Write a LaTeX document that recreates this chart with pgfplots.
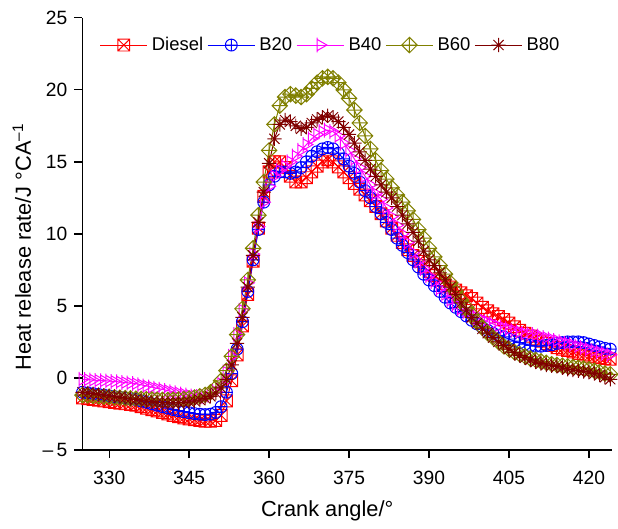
\documentclass[border=0pt]{standalone}
\usepackage{fontspec}
\setmainfont{Liberation Sans}
\usepackage{pgfplots}
\usepackage{pgfplotstable}
\pgfplotsset{compat=1.18}

\definecolor{cDiesel}{RGB}{255,0,0}
\definecolor{cBtwenty}{RGB}{0,0,255}
\definecolor{cBforty}{RGB}{255,0,255}
\definecolor{cBsixty}{RGB}{128,128,0}
\definecolor{cBeighty}{RGB}{128,0,0}

% hollow marks in the style of the original plot
\pgfdeclareplotmark{sqx}{%
  \pgfpathrectangle{\pgfqpoint{-\pgfplotmarksize}{-\pgfplotmarksize}}{\pgfqpoint{2\pgfplotmarksize}{2\pgfplotmarksize}}%
  \pgfpathmoveto{\pgfqpoint{-\pgfplotmarksize}{-\pgfplotmarksize}}%
  \pgfpathlineto{\pgfqpoint{\pgfplotmarksize}{\pgfplotmarksize}}%
  \pgfpathmoveto{\pgfqpoint{-\pgfplotmarksize}{\pgfplotmarksize}}%
  \pgfpathlineto{\pgfqpoint{\pgfplotmarksize}{-\pgfplotmarksize}}%
  \pgfusepathqstroke}
\pgfdeclareplotmark{dplus}{%
  \pgfpathmoveto{\pgfqpoint{0pt}{1.3\pgfplotmarksize}}%
  \pgfpathlineto{\pgfqpoint{1.3\pgfplotmarksize}{0pt}}%
  \pgfpathlineto{\pgfqpoint{0pt}{-1.3\pgfplotmarksize}}%
  \pgfpathlineto{\pgfqpoint{-1.3\pgfplotmarksize}{0pt}}%
  \pgfpathclose
  \pgfpathmoveto{\pgfqpoint{0pt}{1.3\pgfplotmarksize}}%
  \pgfpathlineto{\pgfqpoint{0pt}{-1.3\pgfplotmarksize}}%
  \pgfpathmoveto{\pgfqpoint{-1.3\pgfplotmarksize}{0pt}}%
  \pgfpathlineto{\pgfqpoint{1.3\pgfplotmarksize}{0pt}}%
  \pgfusepathqstroke}
\pgfdeclareplotmark{tright}{%
  \pgfpathmoveto{\pgfqpoint{1.1\pgfplotmarksize}{0pt}}%
  \pgfpathlineto{\pgfqpoint{-0.55\pgfplotmarksize}{0.95\pgfplotmarksize}}%
  \pgfpathlineto{\pgfqpoint{-0.55\pgfplotmarksize}{-0.95\pgfplotmarksize}}%
  \pgfpathclose
  \pgfpathmoveto{\pgfqpoint{-0.55\pgfplotmarksize}{1.25\pgfplotmarksize}}%
  \pgfpathlineto{\pgfqpoint{-0.55\pgfplotmarksize}{-1.25\pgfplotmarksize}}%
  \pgfusepathqstroke}
\pgfdeclareplotmark{star8}{%
  \pgfpathmoveto{\pgfqpoint{0pt}{1.2\pgfplotmarksize}}%
  \pgfpathlineto{\pgfqpoint{0pt}{-1.2\pgfplotmarksize}}%
  \pgfpathmoveto{\pgfqpoint{-1.2\pgfplotmarksize}{0pt}}%
  \pgfpathlineto{\pgfqpoint{1.2\pgfplotmarksize}{0pt}}%
  \pgfpathmoveto{\pgfqpoint{-0.85\pgfplotmarksize}{-0.85\pgfplotmarksize}}%
  \pgfpathlineto{\pgfqpoint{0.85\pgfplotmarksize}{0.85\pgfplotmarksize}}%
  \pgfpathmoveto{\pgfqpoint{-0.85\pgfplotmarksize}{0.85\pgfplotmarksize}}%
  \pgfpathlineto{\pgfqpoint{0.85\pgfplotmarksize}{-0.85\pgfplotmarksize}}%
  \pgfusepathqstroke}

% heat release rate (J/degCA)
\pgfplotstableread{
x    d      b20    b40    b60    b80
325 -1.40 -1.00 -0.10 -1.20 -1.00
326 -1.45 -1.05 -0.12 -1.22 -1.05
327 -1.50 -1.10 -0.15 -1.25 -1.10
328 -1.55 -1.15 -0.18 -1.28 -1.15
329 -1.60 -1.20 -0.20 -1.30 -1.20
330 -1.65 -1.25 -0.22 -1.32 -1.25
331 -1.70 -1.30 -0.25 -1.35 -1.30
332 -1.75 -1.35 -0.28 -1.37 -1.35
333 -1.80 -1.40 -0.32 -1.40 -1.40
334 -1.85 -1.45 -0.36 -1.42 -1.45
335 -1.90 -1.50 -0.40 -1.44 -1.50
336 -2.00 -1.60 -0.48 -1.46 -1.55
337 -2.10 -1.70 -0.56 -1.48 -1.60
338 -2.20 -1.80 -0.64 -1.50 -1.65
339 -2.30 -1.90 -0.72 -1.52 -1.70
340 -2.40 -2.00 -0.80 -1.53 -1.72
341 -2.50 -2.10 -0.88 -1.53 -1.73
342 -2.60 -2.20 -0.96 -1.52 -1.73
343 -2.70 -2.28 -1.04 -1.50 -1.72
344 -2.78 -2.35 -1.12 -1.46 -1.70
345 -2.85 -2.42 -1.20 -1.42 -1.66
346 -2.90 -2.48 -1.26 -1.36 -1.60
347 -2.95 -2.52 -1.30 -1.28 -1.52
348 -3.00 -2.55 -1.30 -1.18 -1.42
349 -3.00 -2.52 -1.20 -1.00 -1.28
350 -2.95 -2.40 -0.95 -0.70 -1.05
351 -2.60 -2.00 -0.40 -0.20 -0.70
352 -1.60 -1.00 0.40 0.50 -0.10
353 -0.20 0.30 1.50 1.50 0.90
354 1.60 2.00 3.00 3.00 2.40
355 3.60 3.90 4.70 4.80 4.20
356 5.80 6.00 6.60 6.80 6.30
357 8.10 8.20 8.60 9.00 8.50
358 10.40 10.30 10.50 11.30 10.80
359 12.60 12.20 12.20 13.60 12.90
360 14.30 13.40 13.30 15.80 14.90
361 15.00 14.00 14.00 17.60 16.60
362 15.00 14.30 14.40 18.90 17.60
363 14.60 14.30 14.70 19.50 17.90
364 14.00 14.20 15.00 19.70 17.80
365 13.60 14.30 15.40 19.60 17.50
366 13.60 14.60 15.80 19.50 17.30
367 13.90 15.00 16.20 19.70 17.40
368 14.30 15.40 16.60 20.10 17.70
369 14.70 15.70 16.90 20.50 17.95
370 15.00 15.90 17.10 20.80 18.10
371 15.15 16.00 17.20 20.90 18.20
372 15.00 15.90 17.10 20.80 18.10
373 14.65 15.60 16.80 20.50 17.80
374 14.30 15.20 16.30 20.00 17.40
375 13.90 14.70 15.80 19.40 16.90
376 13.50 14.20 15.20 18.60 16.30
377 13.10 13.60 14.60 17.70 15.70
378 12.70 13.00 14.00 16.80 15.10
379 12.30 12.50 13.40 15.90 14.50
380 11.90 11.90 12.80 15.10 14.00
381 11.40 11.40 12.40 14.40 13.40
382 10.90 10.80 11.80 13.80 12.90
383 10.40 10.30 11.20 13.20 12.50
384 9.90 9.70 10.60 12.70 11.90
385 9.40 9.20 10.00 12.20 11.30
386 8.90 8.70 9.40 11.60 10.70
387 8.50 8.20 8.70 11.00 10.10
388 8.10 7.70 8.10 10.30 9.50
389 7.70 7.20 7.60 9.70 8.80
390 7.40 6.80 7.10 9.00 8.20
391 7.10 6.40 6.70 8.40 7.80
392 6.80 6.00 6.20 7.80 7.30
393 6.55 5.60 5.80 7.20 6.80
394 6.30 5.20 5.40 6.60 6.30
395 6.10 4.90 5.10 6.00 5.80
396 5.90 4.60 4.80 5.40 5.20
397 5.70 4.30 4.60 4.90 4.70
398 5.50 4.00 4.40 4.40 4.20
399 5.20 3.75 4.20 3.90 3.80
400 4.90 3.50 4.05 3.50 3.40
401 4.65 3.30 3.90 3.10 3.10
402 4.45 3.10 3.75 2.80 2.80
403 4.25 2.95 3.60 2.50 2.50
404 4.05 2.85 3.50 2.20 2.25
405 3.80 2.70 3.40 2.00 2.00
406 3.55 2.55 3.30 1.80 1.75
407 3.30 2.45 3.20 1.65 1.55
408 3.10 2.35 3.10 1.50 1.40
409 2.90 2.25 3.05 1.35 1.25
410 2.70 2.20 3.00 1.25 1.10
411 2.55 2.20 2.90 1.15 1.00
412 2.40 2.25 2.80 1.05 0.90
413 2.25 2.30 2.70 0.95 0.85
414 2.10 2.40 2.60 0.90 0.80
415 2.00 2.45 2.50 0.85 0.70
416 1.90 2.50 2.40 0.80 0.60
417 1.80 2.50 2.30 0.75 0.55
418 1.70 2.50 2.20 0.70 0.50
419 1.60 2.45 2.10 0.65 0.45
420 1.50 2.35 2.00 0.60 0.40
421 1.45 2.25 1.90 0.50 0.30
422 1.40 2.15 1.80 0.40 0.20
423 1.35 2.05 1.70 0.30 0.05
424 1.30 2.00 1.60 0.25 -0.10
}\hrrdata

\begin{document}
\begin{tikzpicture}
\begin{axis}[
  width=267.5pt, height=218pt, scale only axis,
  xmin=324.95, xmax=424.4, ymin=-5, ymax=25,
  axis x line*=bottom, axis y line*=left,
  axis line style={line width=0.65pt},
  xtick={330,345,...,420}, ytick={-5,0,...,25},
  yticklabels={{–\,5},0,5,10,15,20,25},
  minor tick num=0,
  tick align=outside, major tick length=4pt,
  tick style={line width=0.65pt, black},
  /pgf/number format/assume math mode=true,
  /pgf/number format/1000 sep={},
  tick label style={font=\fontsize{9.7}{11}\selectfont},
  xticklabel style={yshift=-3pt},
  label style={font=\fontsize{11}{13}\selectfont},
  xlabel={Crank angle/°},
  ylabel={Heat release rate/J °CA\textsuperscript{–1}},
  xlabel style={at={(axis description cs:0.462,-0.142)}, anchor=center},
  ylabel style={at={(axis description cs:-0.114,0.47)}, anchor=center},
  every axis plot/.append style={line width=0.5pt, mark size=3pt,
    mark options={solid, line width=0.5pt}},
  legend columns=5,
  legend style={at={(0.032,0.966)}, anchor=north west, draw=none, fill=none,
    font=\fontsize{9.3}{11}\selectfont, inner sep=0pt,
    /tikz/every even column/.append style={column sep=0pt}},
  legend image code/.code={\draw[mark repeat=2,mark phase=2]
    plot coordinates {(0cm,0cm) (0.42cm,0cm) (0.84cm,0cm)};},
]
\addplot[cDiesel, mark=sqx] table[x=x, y=d] {\hrrdata};
\addlegendentry{Diesel}
\addplot[cBtwenty, mark=oplus] table[x=x, y=b20] {\hrrdata};
\addlegendentry{B20}
\addplot[cBforty, mark=tright] table[x=x, y=b40] {\hrrdata};
\addlegendentry{B40}
\addplot[cBsixty, mark=dplus] table[x=x, y=b60] {\hrrdata};
\addlegendentry{B60}
\addplot[cBeighty, mark=star8] table[x=x, y=b80] {\hrrdata};
\addlegendentry{B80}
\end{axis}
\path (current axis.south west) ++(-41.5pt,-35pt);
\path (current axis.north east) ++(0pt,9pt);
\end{tikzpicture}
\end{document}
